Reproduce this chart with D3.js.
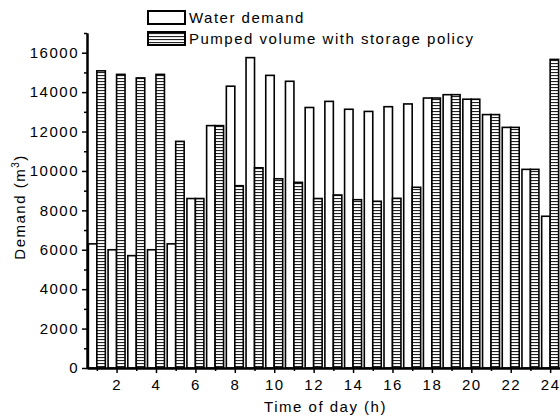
<!DOCTYPE html>
<html>
<head>
<meta charset="utf-8">
<script src="https://cdn.jsdelivr.net/npm/d3@7"></script>
<style>
  body { margin: 0; background: #fff; }
  text { font-family: "Liberation Sans", Arial, sans-serif; font-size: 15px; letter-spacing: 1.5px; fill: #000; }
  .axis path, .axis line { stroke: #000; }
</style>
</head>
<body>
<div id="chart"></div>
<script>
(function() {
    // Data
    var hours = [1, 2, 3, 4, 5, 6, 7, 8, 9, 10, 11, 12, 13, 14, 15, 16, 17, 18, 19, 20, 21, 22, 23, 24];
    var waterDemand = [6300, 6000, 5700, 6000, 6300, 8600, 12300, 14300, 15750, 14850, 14550, 13220, 13530, 13130, 13020, 13260, 13400, 13700, 13870, 13640, 12860, 12210, 10080, 7700];
    var pumpedVolume = [15080, 14900, 14720, 14900, 11500, 8600, 12300, 9250, 10160, 9600, 9420, 8600, 8780, 8540, 8460, 8610, 9170, 13700, 13870, 13640, 12860, 12210, 10080, 15660];
    var xTicks = [2, 4, 6, 8, 10, 12, 14, 16, 18, 20, 22, 24];
    var yTicks = [0, 2000, 4000, 6000, 8000, 10000, 12000, 14000, 16000];
    var seriesNames = ["Water demand", "Pumped volume with storage policy"];

    var W = 560, H = 419;
    var left = 87, right = 560, top = 33, bottom = 368;

    var svg = d3.select("#chart")
        .append("svg")
        .attr("width", W)
        .attr("height", H);

    // hatch pattern for pumped volume
    var defs = svg.append("defs");
    var pat = defs.append("pattern")
        .attr("id", "hatch")
        .attr("patternUnits", "userSpaceOnUse")
        .attr("width", 6)
        .attr("height", 3);
    pat.append("rect").attr("width", 6).attr("height", 3).attr("fill", "#fff");
    pat.append("line")
        .attr("x1", 0).attr("x2", 6)
        .attr("y1", 0.5).attr("y2", 0.5)
        .attr("stroke", "#222")
        .attr("stroke-width", 1.2);

    var x = d3.scaleLinear().domain([0.5, 24.5]).range([left, right]);
    var y = d3.scaleLinear().domain([0, 17000]).range([bottom, top]);

    var bw = (x(1) - x(0)) * 0.43;

    // Water demand bars (left of hour)
    svg.selectAll(".demand")
        .data(hours)
        .enter().append("rect")
        .attr("class", "demand")
        .attr("x", function(d) { return x(d) - bw; })
        .attr("y", function(d, i) { return y(waterDemand[i]); })
        .attr("width", bw)
        .attr("height", function(d, i) { return y(0) - y(waterDemand[i]); })
        .attr("fill", "#fff")
        .attr("stroke", "#000")
        .attr("stroke-width", 1.6);

    // Pumped volume bars (right of hour)
    svg.selectAll(".pumped")
        .data(hours)
        .enter().append("rect")
        .attr("class", "pumped")
        .attr("x", function(d) { return x(d); })
        .attr("y", function(d, i) { return y(pumpedVolume[i]); })
        .attr("width", bw)
        .attr("height", function(d, i) { return y(0) - y(pumpedVolume[i]); })
        .attr("fill", "url(#hatch)")
        .attr("stroke", "#000")
        .attr("stroke-width", 1.6);

    // Axes
    var xAxis = d3.axisBottom(x).tickValues(xTicks).tickSize(5).tickPadding(6).tickSizeOuter(0);
    var xMinor = d3.axisBottom(x).tickValues(hours.filter(function(h) { return h % 2 === 1; }))
        .tickSize(3).tickFormat("").tickSizeOuter(0);
    var yAxis = d3.axisLeft(y).tickValues(yTicks).tickFormat(d3.format("d"))
        .tickSize(5).tickPadding(3).tickSizeOuter(0);
    var yMinor = d3.axisLeft(y).tickValues(d3.range(1000, 17001, 2000))
        .tickSize(3).tickFormat("").tickSizeOuter(0);

    svg.append("g").attr("class", "axis")
        .attr("transform", "translate(0," + bottom + ")")
        .call(xMinor);
    svg.append("g").attr("class", "axis")
        .attr("transform", "translate(0," + bottom + ")")
        .call(xAxis);
    svg.append("g").attr("class", "axis")
        .attr("transform", "translate(" + left + ",0)")
        .call(yMinor);
    svg.append("g").attr("class", "axis")
        .attr("transform", "translate(" + left + ",0)")
        .call(yAxis);

    svg.selectAll(".axis path").attr("stroke-width", 2);
    svg.selectAll(".axis line").attr("stroke-width", 1.5);

    // Axis titles
    svg.append("text")
        .attr("x", (left + right) / 2 + 2)
        .attr("y", 412)
        .attr("text-anchor", "middle")
        .text("Time of day (h)");

    var yt = svg.append("text")
        .attr("transform", "translate(25,207) rotate(-90)")
        .attr("text-anchor", "middle");
    yt.append("tspan").text("Demand (m");
    yt.append("tspan").attr("dy", -6).attr("font-size", 10).style("font-size", "10px").text("3");
    yt.append("tspan").attr("dy", 6).text(")");

    // Legend
    var legend = svg.append("g");
    var fills = ["#fff", "url(#hatch)"];
    seriesNames.forEach(function(name, i) {
        legend.append("rect")
            .attr("x", 148)
            .attr("y", 11 + i * 21)
            .attr("width", 37)
            .attr("height", 13)
            .attr("fill", fills[i])
            .attr("stroke", "#000")
            .attr("stroke-width", 2);
        legend.append("text")
            .attr("x", 189)
            .attr("y", 23 + i * 21)
            .text(name);
    });
})();
</script>
</body>
</html>
